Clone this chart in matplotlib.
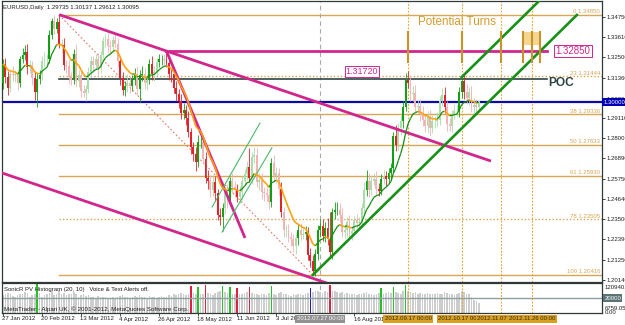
import numpy as np
import pandas as pd
import matplotlib
matplotlib.use("Agg")
import matplotlib.pyplot as plt
from matplotlib.collections import LineCollection
from matplotlib.patches import Rectangle

plt.rcParams['font.family'] = ['Liberation Sans', 'DejaVu Sans']

# ---------------- data (EURUSD daily, 27 Jan 2012 .. late Oct 2012) ----------------
first_open = 1.3105
closes = [
    1.3214, 1.3140, 1.3080, 1.3160, 1.3150, 1.3155, 1.3110, 1.3240, 1.3265, 1.3280,
    1.3195, 1.3205, 1.3135, 1.3060, 1.3130, 1.3150, 1.3230, 1.3240, 1.3240, 1.3375,
    1.3450, 1.3410, 1.3445, 1.3320, 1.3320, 1.3210, 1.3200, 1.3140, 1.3125, 1.3270,
    1.3120, 1.3150, 1.3065, 1.3050, 1.3075, 1.3170, 1.3230, 1.3210, 1.3240, 1.3190,
    1.3265, 1.3340, 1.3350, 1.3315, 1.3305, 1.3345, 1.3325, 1.3230, 1.3135, 1.3070,
    1.3090, 1.3110, 1.3090, 1.3125, 1.3160, 1.3075, 1.3150, 1.3155, 1.3110, 1.3125,
    1.3215, 1.3155, 1.3170, 1.3225, 1.3240, 1.3240, 1.3235, 1.3220, 1.3160, 1.3155,
    1.3080, 1.3045, 1.3010, 1.2940, 1.2955, 1.2915, 1.2835, 1.2750, 1.2715, 1.2670,
    1.2780, 1.2780, 1.2685, 1.2580, 1.2565, 1.2515, 1.2560, 1.2495, 1.2375, 1.2365,
    1.2415, 1.2500, 1.2455, 1.2565, 1.2530, 1.2515, 1.2475, 1.2500, 1.2565, 1.2600,
    1.2640, 1.2580, 1.2695, 1.2705, 1.2555, 1.2570, 1.2500, 1.2495, 1.2485, 1.2445,
    1.2665, 1.2590, 1.2605, 1.2520, 1.2390, 1.2290, 1.2290, 1.2255, 1.2240, 1.2200,
    1.2245, 1.2290, 1.2265, 1.2270, 1.2280, 1.2155, 1.2120, 1.2065, 1.2160, 1.2290,
    1.2315, 1.2260, 1.2300, 1.2240, 1.2170, 1.2390, 1.2400, 1.2405, 1.2375, 1.2280,
    1.2290, 1.2335, 1.2270, 1.2285, 1.2345, 1.2330, 1.2335, 1.2415, 1.2515, 1.2565,
    1.2515, 1.2565, 1.2575, 1.2520, 1.2510, 1.2575, 1.2590, 1.2575, 1.2610, 1.2635,
    1.2815, 1.2765, 1.2860, 1.2895, 1.2975, 1.3125, 1.3110, 1.3045, 1.3050, 1.2975,
    1.2980, 1.2935, 1.2900, 1.2870, 1.2920, 1.2860, 1.2895, 1.2895, 1.2900, 1.3010,
    1.3040, 1.2975, 1.2880, 1.2870, 1.2935, 1.2950, 1.2950, 1.3060, 1.3120, 1.3060,
    1.3025, 1.3055, 1.2975, 1.2985, 1.29735, 1.30095,
]
hi_ext_pips = [
    25, 30, 35, 20, 40, 25, 30, 20, 35, 40,
    45, 30, 25, 40, 35, 30, 25, 40, 30, 25,
    20, 35, 25, 42, 30, 40, 25, 35, 30, 25,
    55, 30, 25, 30, 20, 25, 30, 25, 30, 35,
    20, 25, 30, 35, 30, 25, 40, 30, 25, 35,
    30, 45, 35, 25, 30, 40, 30, 45, 35, 30,
    25, 45, 30, 20, 30, 25, 30, 48, 35, 30,
    25, 40, 30, 35, 40, 30, 35, 25, 30, 35,
    40, 35, 30, 40, 45, 30, 35, 30, 25, 40,
    25, 30, 45, 20, 40, 35, 30, 35, 25, 30,
    35, 107, 30, 45, 40, 35, 40, 30, 35, 40,
    28, 40, 35, 30, 35, 30, 30, 35, 25, 30,
    30, 35, 40, 30, 35, 30, 35, 30, 25, 30,
    35, 40, 35, 60, 150, 25, 45, 40, 35, 40,
    35, 30, 40, 30, 25, 35, 30, 25, 40, 58,
    40, 30, 35, 45, 30, 25, 35, 30, 25, 30,
    20, 60, 25, 35, 30, 40, 47, 35, 40, 45,
    35, 40, 45, 35, 30, 40, 35, 30, 45, 25,
    40, 45, 30, 35, 25, 40, 35, 25, 20, 35,
    40, 30, 35, 40, 35, 4,
]
lo_ext_pips = [
    30, 35, 40, 25, 30, 35, 40, 25, 20, 30,
    35, 30, 40, 45, 86, 30, 25, 35, 30, 20,
    25, 30, 25, 20, 45, 30, 35, 40, 30, 25,
    30, 35, 35, 20, 40, 25, 30, 35, 25, 40,
    25, 20, 30, 35, 40, 30, 25, 35, 40, 30,
    35, 30, 40, 25, 30, 35, 72, 30, 35, 40,
    25, 30, 35, 25, 30, 35, 30, 25, 35, 40,
    30, 35, 40, 30, 35, 40, 30, 35, 40, 50,
    30, 35, 25, 30, 45, 40, 35, 40, 30, 45,
    77, 35, 40, 30, 35, 40, 30, 35, 40, 25,
    30, 25, 35, 30, 25, 40, 35, 40, 30, 35,
    25, 30, 40, 35, 25, 35, 40, 30, 35, 30,
    40, 35, 30, 25, 35, 30, 35, 23, 30, 35,
    40, 30, 35, 30, 37, 40, 35, 25, 40, 30,
    35, 40, 30, 35, 25, 30, 35, 25, 30, 35,
    40, 30, 25, 35, 30, 25, 30, 40, 30, 35,
    25, 35, 30, 40, 35, 25, 30, 35, 40, 30,
    35, 40, 30, 35, 40, 45, 30, 35, 30, 25,
    30, 35, 40, 30, 35, 30, 25, 30, 35, 40,
    35, 40, 30, 35, 30, 13,
]
volume_k = [
    24, 26, 27, 25, 23, 22, 24, 26, 25, 28,
    27, 22, 24, 26, 39, 27, 22, 24, 25, 27,
    30, 24, 26, 31, 26, 27, 24, 25, 26, 28,
    25, 22, 24, 25, 23, 24, 22, 21, 20, 23,
    22, 21, 22, 20, 19, 21, 20, 22, 23, 24,
    22, 21, 20, 22, 23, 21, 24, 22, 21, 20,
    23, 22, 21, 20, 22, 23, 21, 22, 24, 23,
    25, 24, 26, 27, 25, 24, 26, 36, 27, 26,
    35, 26, 25, 37, 27, 26, 24, 27, 28, 29,
    36, 28, 27, 35, 26, 25, 34, 25, 26, 27,
    28, 35, 27, 26, 25, 24, 26, 25, 24, 27,
    36, 26, 24, 27, 28, 26, 25, 24, 23, 25,
    24, 26, 25, 24, 26, 27, 33, 28, 29, 30,
    28, 27, 29, 28, 37, 30, 29, 28, 27, 28,
    26, 27, 26, 25, 26, 24, 25, 26, 27, 28,
    26, 25, 24, 26, 27, 34, 26, 27, 28, 27,
    35, 28, 27, 26, 29, 37, 30, 28, 27, 28,
    26, 27, 26, 25, 27, 26, 25, 26, 27, 25,
    26, 28, 27, 26, 25, 24, 26, 27, 29, 28,
    26, 25, 22, 18, 16, 14,
]
pv_climax = {14: 'g', 77: 'r', 80: 'g', 83: 'r', 90: 'g', 93: 'g', 96: 'r', 101: 'r',
             110: 'g', 126: 'b', 134: 'r', 155: 'g', 160: 'g', 165: 'g'}

title_text = "EURUSD,Daily  1.29735 1.30137 1.29612 1.30095"

# Fibonacci retracement (Feb 29 high -> Jul 24 low)
fib_start_bar, fib_end_bar = 23, 127
fib_high, fib_low = 1.34850, 1.20416
fib_ratios = [0.0, 0.236, 0.382, 0.5, 0.618, 0.786, 1.0]
fib_names = ["0", "23", "38", "50", "61", "78", "100"]
fib_dotted = [False, True, False, False, False, True, False]

poc_price = 1.3127
round_level = 1.30000
resistance_level = 1.32850
sep_high_label = 1.31720

# trend lines: ((bar, price), (bar, price))
magenta_lines = [((23, 1.3487), (200, 1.2674)),
                 ((-5, 1.2629), (140, 1.1963)),
                 ((67, 1.3285), (99.2, 1.2247))]
magenta_horizontal = ((67, 223), resistance_level)
green_lines = [((127, 1.2042), (235.2, 1.3485)),
               ((188, 1.3140), (245, 1.3900))]
thin_green_lines = [((85.7, 1.2419), (105.3, 1.2885)),
                    ((89.8, 1.2280), (110.2, 1.2747))]

turn_bars = [166, 188, 204, 213, 217, 220]
turn_zone_bars = (213, 220)
turn_low, turn_mid, turn_high = 1.3224, 1.3318, 1.3391
future_vlines = [166, 188, 204, 217]
future_labels = ["2012.09.17 00:00", "2012.10.17 00:00", "2012.11.07 00:00", "2012.11.26 00:00"]
cursor_bar = 130
cursor_label = "2012.07.27 00:00"

date_ticks = [0, 16, 32, 48, 64, 80, 96, 112, 144]
date_labels = ["27 Jan 2012", "20 Feb 2012", "13 Mar 2012", "4 Apr 2012", "26 Apr 2012",
               "18 May 2012", "11 Jun 2012", "3 Jul 2012", "16 Aug 2012"]

price_ticks = [1.3475, 1.3361, 1.3250, 1.3136, 1.3020, 1.2911, 1.2800, 1.2689,
               1.2575, 1.2464, 1.2350, 1.2239, 1.2125, 1.2014]
sub_labels = [(34.5, "120940.4"), (6.0, "6759.05"), (0.8, "0.00")]
sub_level = 20.0

# ---------------- layout ----------------
W, H = 625, 325
fig = plt.figure(figsize=(W / 100, H / 100), dpi=100)
fig.patch.set_facecolor('white')

def frac(x0, y0, x1, y1):
    return [x0 / W, 1 - y1 / H, (x1 - x0) / W, (y1 - y0) / H]

ax = fig.add_axes(frac(2, 1, 602, 282))
ax2 = fig.add_axes(frac(2, 283, 602, 313))
XMIN, XMAX = -0.41, 245.5
for a in (ax, ax2):
    a.set_xlim(XMIN, XMAX)
    a.set_facecolor('white')
    for s in a.spines.values():
        s.set_color('#303838')
        s.set_linewidth(0.9)
ax.set_ylim(1.20025, 1.35627)
ax2.set_ylim(0, 40)

SMALL = 4.3
TAN = '#d8a656'
MAG = '#d2268c'

n = len(closes)
x = np.arange(n)
c = np.array(closes)
o = np.array([first_open] + closes[:-1])
hi = np.maximum(o, c) + np.array(hi_ext_pips) * 1e-4
lo = np.minimum(o, c) - np.array(lo_ext_pips) * 1e-4
vol = np.array(volume_k, dtype=float)
avg = pd.Series(vol).rolling(20, min_periods=1).mean().values
strong = vol >= avg
up = c >= o
col = np.where(up, np.where(strong, '#12a012', '#a9dca9'),
               np.where(strong, '#e2232c', '#f3b2b4'))

# ---------------- main window ----------------
rng = fib_high - fib_low
for r, name, dotted in zip(fib_ratios, fib_names, fib_dotted):
    lvl = fib_high - r * rng
    ax.plot([fib_start_bar, XMAX], [lvl, lvl], color=TAN, lw=1.0,
            ls=(0, (1, 1.5)) if dotted else '-', zorder=1)
    ax.text(0.9967, lvl + 0.0004, f"{name} {lvl:.5f}", transform=ax.get_yaxis_transform(),
            ha='right', va='bottom', fontsize=SMALL, color=TAN, zorder=6)
ax.plot([fib_start_bar, fib_end_bar], [fib_high, fib_low], color='#e77a6c', lw=0.8,
        ls=(0, (1.5, 2)), zorder=1)

ax.axvline(cursor_bar, color='#a8a8a8', lw=0.8, ls=(0, (4, 3)), zorder=1)
ax2.axvline(cursor_bar, color='#a8a8a8', lw=0.8, ls=(0, (4, 3)), zorder=1)
for b in future_vlines:
    ax.axvline(b, color='#e3a42c', lw=0.8, ls=(0, (1.5, 1.5)), zorder=1)
    ax2.axvline(b, color='#e3a42c', lw=0.8, ls=(0, (1.5, 1.5)), zorder=3)

ax.plot([fib_start_bar, 223], [poc_price, poc_price], color='#2f4444', lw=1.2, zorder=2)
ax.axhline(round_level, color='#0a0aa8', lw=1.6, zorder=2)

for (x0, y0), (x1, y1) in magenta_lines:
    ax.plot([x0, x1], [y0, y1], color=MAG, lw=2.0, zorder=4, solid_capstyle='butt')
(hx0, hx1), hy = magenta_horizontal
ax.plot([hx0, hx1], [hy, hy], color=MAG, lw=2.0, zorder=4)

for (x0, y0), (x1, y1) in green_lines:
    ax.plot([x0, x1], [y0, y1], color='#179117', lw=1.9, zorder=4)
for (x0, y0), (x1, y1) in thin_green_lines:
    ax.plot([x0, x1], [y0, y1], color='#49b86a', lw=0.8, zorder=4)

ax.vlines(x, lo, hi, colors=col, lw=0.6, zorder=3)
body_h = np.maximum(np.abs(c - o), 0.00025)
ax.bar(x, body_h, bottom=np.minimum(o, c), width=0.78, color=col, linewidth=0, zorder=3)

ema = pd.Series(c).ewm(span=10, adjust=False).mean().values
segs = [[(i, ema[i]), (i + 1, ema[i + 1])] for i in range(n - 1)]
seg_cols = ['#128c12' if ema[i + 1] >= ema[i] else '#ffa20a' for i in range(n - 1)]
seg_w = [0.9 if ema[i + 1] >= ema[i] else 1.2 for i in range(n - 1)]
ax.add_collection(LineCollection(segs, colors=seg_cols, linewidths=seg_w, zorder=5))

for b in turn_bars:
    ax.plot([b, b], [turn_low, turn_high], color='#c9922a', lw=1.5, zorder=5)
ax.add_patch(Rectangle((turn_zone_bars[0], turn_mid), turn_zone_bars[1] - turn_zone_bars[0],
                       turn_high - turn_mid, facecolor='#f4d690', edgecolor='none', zorder=4.5))
ax.text(170, 1.3446, "Potential Turns", fontsize=8.4, color='#d49c2e', ha='left', va='center', zorder=6)

ax.text(223.5, 1.3107, "POC", fontsize=8.6, fontweight='bold', color='#2f4444',
        ha='left', va='center', zorder=6)
ax.text(226.5, resistance_level, f"{resistance_level:.5f}", fontsize=7.0, color=MAG,
        ha='left', va='center', zorder=7, clip_on=False,
        bbox=dict(boxstyle='square,pad=0.12', fc='white', ec=MAG, lw=0.7))
ax.text(140.5, sep_high_label, f"{sep_high_label:.5f}", fontsize=6.4, color=MAG,
        ha='left', va='center', zorder=7,
        bbox=dict(boxstyle='square,pad=0.12', fc='white', ec=MAG, lw=0.7))

ax.yaxis.tick_right()
ax.set_yticks(price_ticks)
ax.set_yticklabels([f"{p:.5f}" for p in price_ticks])
ax.tick_params(axis='y', length=2, width=0.6, pad=1.5, labelsize=SMALL, colors='#202020')
ax.set_xticks([])
ax.text(1.0025, round_level, f"{round_level:.5f}", transform=ax.get_yaxis_transform(),
        fontsize=SMALL, color='white', ha='left', va='center', zorder=8, clip_on=False,
        bbox=dict(boxstyle='square,pad=0.25', fc='#0000b4', ec='none'))

fig.text(3 / W, 1 - 7 / H, title_text, fontsize=SMALL, color='#202020', ha='left', va='center')

# ---------------- sub window: PV histogram ----------------
hcol = []
for i in range(n):
    k = pv_climax.get(i)
    hcol.append({'g': '#22c422', 'r': '#e0203c', 'b': '#1818d8'}.get(k, '#cdcdcd'))
ax2.bar(x, vol, width=0.66, color=hcol, linewidth=0, zorder=2)
ax2.axhline(sub_level, color='#90a0a0', lw=1.0, zorder=2.5)
ax2.set_yticks([])
ax2.set_xticks(date_ticks)
ax2.set_xticklabels([])
ax2.tick_params(axis='x', length=2, width=0.6, colors='#303030')
ax2.text(0.003, 0.77, "SonicR PV Histogram (20, 10)   Voice & Text Alerts off.",
         transform=ax2.transAxes, fontsize=SMALL, color='#202020', ha='left', va='center', zorder=6)
ax2.text(0.003, 0.13, "MetaTrader - Alpari UK, \u00a9 2001-2012, MetaQuotes Software Corp.",
         transform=ax2.transAxes, fontsize=4.5, color='#202020', ha='left', va='center', zorder=6)
for yv, t in sub_labels:
    ax2.text(1.004, yv, t, transform=ax2.get_yaxis_transform(), fontsize=SMALL,
             color='#202020', ha='left', va='center', clip_on=False)
ax2.text(1.004, sub_level, f"{sub_level * 1000:.0f}", transform=ax2.get_yaxis_transform(),
         fontsize=SMALL, color='white', ha='left', va='center', clip_on=False, zorder=8,
         bbox=dict(boxstyle='square,pad=0.2', fc='#587474', ec='none'))

tr = ax2.get_xaxis_transform()
for b, t in zip(date_ticks, date_labels):
    ax2.text(b - 0.3, -0.2, t, transform=tr, fontsize=SMALL, color='#202020',
             ha='left', va='center', clip_on=False)
ax2.text(cursor_bar, -0.2, cursor_label, transform=tr, fontsize=SMALL, color='white',
         ha='center', va='center', clip_on=False, zorder=8,
         bbox=dict(boxstyle='square,pad=0.2', fc='#909090', ec='none'))
for b, t in zip(future_vlines, future_labels):
    ax2.text(b, -0.2, t, transform=tr, fontsize=SMALL, color='#3a2a00',
             ha='center', va='center', clip_on=False, zorder=8,
             bbox=dict(boxstyle='square,pad=0.2', fc='#d9a022', ec='none'))

fig.savefig("out.png", dpi=100, facecolor='white')
